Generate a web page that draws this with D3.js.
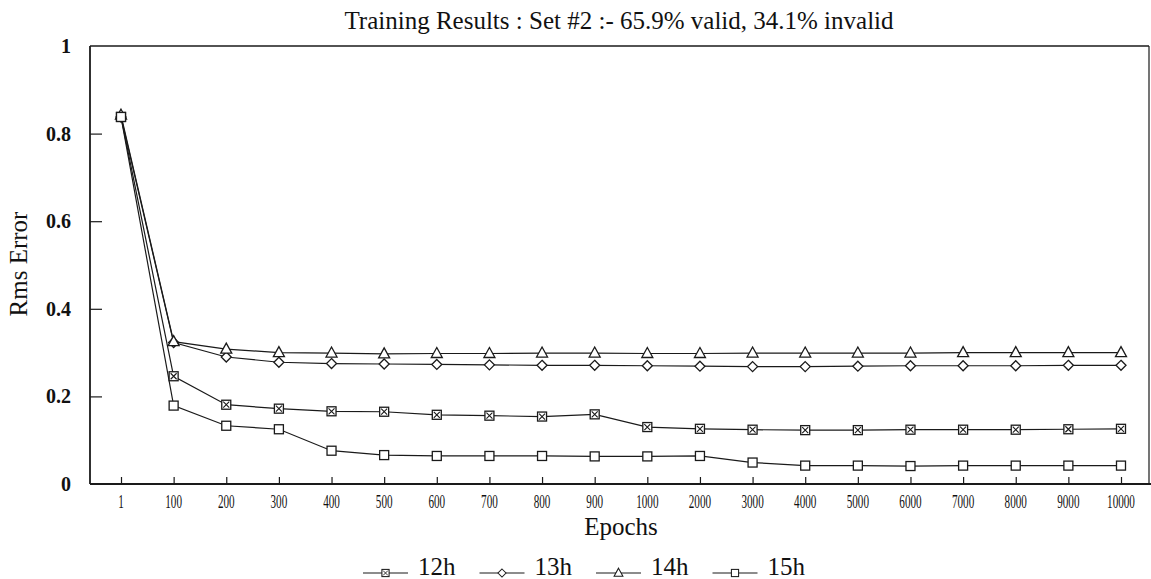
<!DOCTYPE html>
<html>
<head>
<meta charset="utf-8">
<script src="https://cdn.jsdelivr.net/npm/d3@7/dist/d3.min.js"></script>
<style>
  html, body { margin: 0; padding: 0; background: #fff; }
  svg { display: block; }
  text { font-family: "Liberation Serif", "Times New Roman", serif; fill: #111; }
</style>
</head>
<body>
<svg id="chart" width="1151" height="579"></svg>
<script>
// ---- data ----
const categories = ["1","100","200","300","400","500","600","700","800","900",
                    "1000","2000","3000","4000","5000","6000","7000","8000","9000","10000"];
const s12h = [0.838, 0.246, 0.181, 0.172, 0.166, 0.165, 0.158, 0.156, 0.154, 0.159,
              0.130, 0.126, 0.124, 0.123, 0.123, 0.124, 0.124, 0.124, 0.125, 0.126];
const s13h = [0.838, 0.323, 0.290, 0.278, 0.275, 0.274, 0.273, 0.272, 0.271, 0.271,
              0.270, 0.269, 0.268, 0.268, 0.269, 0.270, 0.270, 0.270, 0.271, 0.271];
const s14h = [0.842, 0.325, 0.308, 0.300, 0.299, 0.297, 0.298, 0.298, 0.299, 0.299,
              0.298, 0.298, 0.299, 0.299, 0.299, 0.299, 0.300, 0.300, 0.300, 0.300];
const s15h = [0.838, 0.179, 0.133, 0.125, 0.076, 0.066, 0.064, 0.064, 0.064, 0.063,
              0.063, 0.064, 0.049, 0.042, 0.042, 0.041, 0.042, 0.042, 0.042, 0.042];
const seriesNames = ["12h", "13h", "14h", "15h"];
const yTicks = [0, 0.2, 0.4, 0.6, 0.8, 1];
const yTickLabels = ["0", "0.2", "0.4", "0.6", "0.8", "1"];
const titleText = "Training Results : Set #2 :- 65.9% valid, 34.1% invalid";
const xTitle = "Epochs";
const yTitle = "Rms Error";

// ---- layout ----
const svg = d3.select("#chart");
const pLeft = 90, pRight = 1149, pTop = 46, pBottom = 484;
const x = d3.scalePoint().domain(categories).range([121, 1121]);
const y = d3.scaleLinear().domain([0, 1]).range([pBottom, pTop]);
const ink = "#1a1a1a";

// frame
const g = svg.append("g");
g.append("line").attr("x1", pLeft).attr("x2", pRight).attr("y1", pTop).attr("y2", pTop)
  .attr("stroke", ink).attr("stroke-width", 1.6);
g.append("line").attr("x1", pRight).attr("x2", pRight).attr("y1", pTop).attr("y2", pBottom)
  .attr("stroke", ink).attr("stroke-width", 1.2);

// y axis
const yAxis = d3.axisRight(y).tickValues(yTicks.filter(v => v > 0 && v < 1))
  .tickSize(12).tickFormat("");
const ya = svg.append("g").attr("transform", `translate(${pLeft},0)`).call(yAxis);
ya.select(".domain").attr("d", `M0,${pTop}V${pBottom}`).attr("stroke", ink).attr("stroke-width", 1.8);
ya.selectAll(".tick line").attr("stroke", ink).attr("stroke-width", 1.2);

svg.append("g").selectAll("text").data(yTicks).join("text")
  .attr("x", 71).attr("y", d => y(d)).attr("dy", "0.35em")
  .attr("text-anchor", "end").attr("font-size", 20).attr("font-weight", "bold")
  .text((d, i) => yTickLabels[i]);

// x axis
const xAxis = d3.axisTop(x).tickSize(7).tickFormat("");
const xa = svg.append("g").attr("transform", `translate(0,${pBottom})`).call(xAxis);
xa.select(".domain").attr("d", `M${pLeft},0H1151`).attr("stroke", ink).attr("stroke-width", 1.8);
xa.selectAll(".tick line").attr("stroke", ink).attr("stroke-width", 1.2);

svg.append("g").selectAll("text").data(categories).join("text")
  .attr("transform", d => `translate(${x(d)},508) scale(0.62,1)`)
  .attr("text-anchor", "middle").attr("font-size", 18)
  .text(d => d);

// titles
svg.append("text").attr("x", 619).attr("y", 29).attr("text-anchor", "middle")
  .attr("font-size", 25).text(titleText);
svg.append("text").attr("x", 621).attr("y", 535).attr("text-anchor", "middle")
  .attr("font-size", 25).text(xTitle);
svg.append("text").attr("transform", "translate(27,264) rotate(-90)")
  .attr("text-anchor", "middle").attr("font-size", 25).text(yTitle);

// markers
function drawMarker(sel, type) {
  if (type === "12h") {
    sel.append("rect").attr("x", -4.5).attr("y", -4.5).attr("width", 9).attr("height", 9)
      .attr("fill", "#fff").attr("stroke", ink).attr("stroke-width", 1.3);
    sel.append("path").attr("d", "M-3,-3L3,3M3,-3L-3,3").attr("stroke", ink).attr("stroke-width", 1.1);
  } else if (type === "13h") {
    sel.append("path").attr("d", "M0,-5L5,0L0,5L-5,0Z")
      .attr("fill", "#fff").attr("stroke", ink).attr("stroke-width", 1.3);
  } else if (type === "14h") {
    sel.append("path").attr("d", "M0,-6L5.5,4L-5.5,4Z")
      .attr("fill", "#fff").attr("stroke", ink).attr("stroke-width", 1.3);
  } else {
    sel.append("rect").attr("x", -4.5).attr("y", -4.5).attr("width", 9).attr("height", 9)
      .attr("fill", "#fff").attr("stroke", ink).attr("stroke-width", 1.3);
  }
}

const seriesData = [s12h, s13h, s14h, s15h];
const line = d3.line().x((d, i) => x(categories[i])).y(d => y(d));
seriesData.forEach((vals, k) => {
  svg.append("path").datum(vals).attr("d", line)
    .attr("fill", "none").attr("stroke", ink).attr("stroke-width", 1.2);
});
seriesData.forEach((vals, k) => {
  svg.append("g").selectAll("g").data(vals).join("g")
    .attr("transform", (d, i) => `translate(${x(categories[i])},${y(d)})`)
    .each(function() { drawMarker(d3.select(this), seriesNames[k]); });
});

// legend
const legStart = 363, legStep = 116.5, legLine = 45, legY = 573;
seriesNames.forEach((name, k) => {
  const lx = legStart + k * legStep;
  const lg = svg.append("g");
  lg.append("line").attr("x1", lx).attr("x2", lx + legLine).attr("y1", legY).attr("y2", legY)
    .attr("stroke", ink).attr("stroke-width", 1.2);
  const m = lg.append("g").attr("transform", `translate(${lx + legLine / 2},${legY}) scale(0.8)`);
  drawMarker(m, name);
  lg.append("text").attr("x", lx + legLine + 10).attr("y", 575)
    .attr("font-size", 25).text(name);
});
</script>
</body>
</html>
